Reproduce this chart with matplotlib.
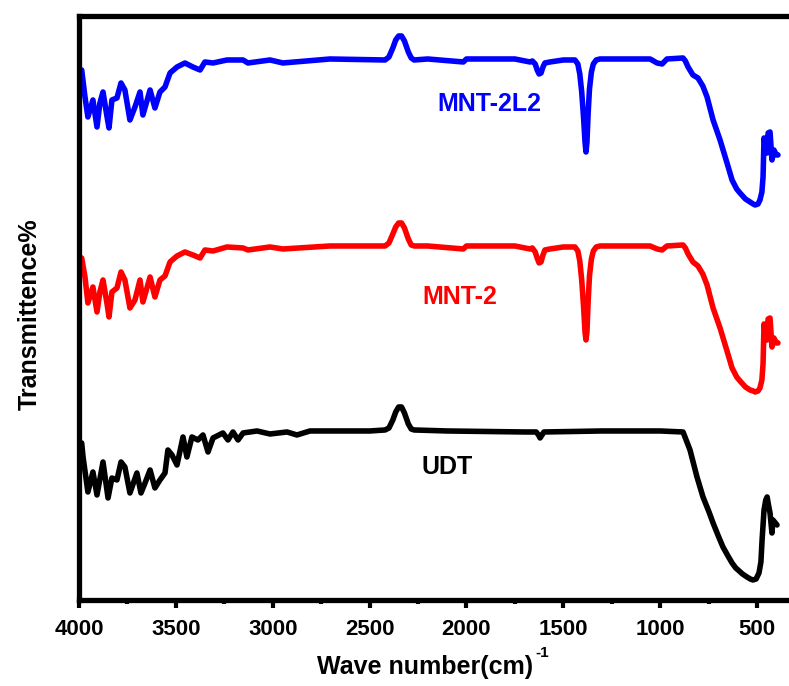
import matplotlib.pyplot as plt
import numpy as np

# FTIR spectra, transmittance in arbitrary (offset) units
wn_blue = [4000, 3986, 3969, 3954, 3928, 3907, 3892, 3876, 3855, 3845, 3830, 3804, 3783, 3763,
           3737, 3711, 3685, 3670, 3633, 3608, 3582, 3556, 3530, 3494, 3453, 3412, 3375, 3350,
           3308, 3236, 3153, 3128, 3014, 2947, 2704, 2420, 2400, 2380, 2365, 2350, 2335, 2320,
           2300, 2285, 2270, 2200, 2016, 2000, 1750, 1672, 1660, 1645, 1635, 1625, 1615, 1605,
           1595, 1569, 1500, 1440, 1425, 1415, 1405, 1395, 1388, 1383, 1378, 1372, 1365, 1355,
           1345, 1330, 1311, 1052, 1016, 990, 965, 882, 870, 856, 831, 805, 780, 758, 727, 691,
           655, 629, 605, 588, 560, 536, 520, 510, 495, 485, 475, 469, 464, 455, 448, 443, 433,
           423, 413, 400, 392]
t_blue = [532, 534, 507, 487, 504, 477, 501, 512, 487, 476, 504, 506, 521, 514,
          484, 497, 512, 489, 514, 496, 512, 517, 531, 537, 541, 537, 534, 542,
          541, 544, 544, 541, 544, 541, 545, 544, 547, 556, 564, 568, 568, 563,
          552, 546, 544, 545, 542, 545, 545, 542, 543, 540, 534, 530, 531, 537,
          541, 542, 544, 544, 540, 530, 512, 485, 462, 452, 462, 490, 515, 532,
          540, 544, 545, 545, 541, 540, 545, 546, 543, 537, 529, 526, 518, 507, 484, 464,
          441, 424, 415, 411, 405, 402, 400, 399, 400, 404, 412, 427, 466, 455, 451, 471, 472,
          444, 454, 449, 449]

wn_red = [4000, 3986, 3969, 3954, 3928, 3907, 3892, 3876, 3855, 3845, 3830, 3804, 3783, 3763,
          3737, 3711, 3685, 3670, 3633, 3608, 3582, 3556, 3530, 3494, 3453, 3412, 3375, 3350,
          3308, 3236, 3153, 3128, 3014, 2947, 2704, 2420, 2400, 2380, 2365, 2350, 2335, 2320,
          2300, 2285, 2270, 2200, 2016, 2000, 1750, 1672, 1660, 1645, 1635, 1625, 1615, 1605,
          1595, 1569, 1500, 1440, 1425, 1415, 1405, 1395, 1388, 1383, 1378, 1372, 1365, 1355,
          1345, 1330, 1311, 1052, 1016, 990, 965, 882, 870, 856, 831, 805, 780, 758, 727, 691,
          655, 629, 605, 588, 560, 536, 520, 510, 495, 485, 475, 469, 464, 455, 448, 443, 433,
          423, 413, 400, 392]
t_red = [344, 346, 327, 301, 317, 292, 312, 324, 300, 287, 312, 316, 332, 324,
         296, 304, 324, 302, 327, 307, 324, 328, 342, 348, 352, 349, 346, 354,
         353, 357, 356, 354, 357, 355, 358, 358, 361, 370, 377, 381, 381, 376,
         365, 359, 358, 358, 355, 358, 358, 355, 356, 352, 346, 341, 342, 349,
         354, 355, 357, 357, 353, 343, 324, 296, 272, 264, 272, 302, 328, 345,
         353, 357, 358, 358, 355, 354, 358, 359, 356, 350, 342, 338, 330, 319, 296, 276,
         253, 236, 227, 223, 217, 214, 213, 212, 213, 216, 224, 240, 280, 268, 264, 285, 286,
         257, 266, 261, 261]

wn_black = [4000, 3986, 3979, 3954, 3928, 3907, 3876, 3850, 3830, 3804, 3783, 3763, 3737, 3701,
            3680, 3659, 3633, 3608, 3582, 3556, 3541, 3520, 3494, 3463, 3443, 3417, 3386, 3360,
            3334, 3308, 3257, 3231, 3205, 3179, 3153, 3081, 3014, 2926, 2875, 2808, 2498, 2420,
            2400, 2380, 2365, 2350, 2335, 2320, 2300, 2285, 2270, 2100, 1700, 1640, 1628, 1620,
            1610, 1600, 1300, 1000, 882, 870, 846, 810, 779, 750, 727, 700, 676, 650, 629, 610,
            598, 575, 552, 535, 521, 505, 490, 480, 474, 464, 455, 448, 440, 433, 423, 418, 397]
t_black = [158, 161, 147, 112, 132, 109, 142, 106, 126, 124, 142, 137, 111, 131,
           111, 121, 134, 116, 124, 131, 154, 149, 139, 167, 147, 167, 164, 169,
           152, 166, 171, 164, 172, 164, 171, 173, 170, 172, 169, 173, 173, 174,
           176, 184, 192, 197, 197, 191, 180, 175, 174, 173, 172, 172, 169, 166,
           169, 172, 173, 173, 172, 166, 154, 127, 107, 93, 81, 68, 57, 48, 41, 36,
           34, 30, 27, 25, 24, 25, 31, 42, 64, 94, 104, 107, 98, 91, 71, 84, 79]

labels = ["MNT-2L2", "MNT-2", "UDT"]
label_pos = [(1884, 500), (2033, 307), (2100, 137)]
colors = ["#0000ff", "#ff0000", "#000000"]

xticks = [4000, 3500, 3000, 2500, 2000, 1500, 1000, 500]

fonts = ["Liberation Sans", "DejaVu Sans"]

fig = plt.figure(figsize=(7.89, 6.86), dpi=100)
ax = fig.add_axes([0.1001, 0.1254, 0.9036, 0.8513])

series = [(wn_blue, t_blue), (wn_red, t_red), (wn_black, t_black)]
for (wn, t), c in zip(series, colors):
    ax.plot(wn, t, color=c, lw=4, solid_joinstyle="round", solid_capstyle="round")

for lab, (x, y), c in zip(labels, label_pos, colors):
    ax.text(x, y, lab, color=c, fontsize=18, fontweight="bold", family=fonts,
            ha="center", va="center")

ax.set_xlim(4000, 320)
ax.set_ylim(4, 588)
ax.set_xticks(xticks)
ax.set_xticks(np.arange(3750, 300, -500), minor=True)
ax.set_yticks([])
for sp in ax.spines.values():
    sp.set_linewidth(3.8)
ax.tick_params(axis="x", which="major", length=6, width=3, direction="out", pad=8)
ax.tick_params(axis="x", which="minor", length=3, width=3, direction="out")
for lbl in ax.get_xticklabels():
    lbl.set_fontsize(16)
    lbl.set_fontweight("bold")
    lbl.set_family(fonts)

ax.set_xlabel("Wave number(cm)", fontsize=18, fontweight="bold", family=fonts)
ax.xaxis.set_label_coords(0.485, -0.094)
fig.text(535 / 789, 1 - 653 / 686, "-1", fontsize=11, fontweight="bold", family=fonts,
         ha="left", va="center")
ax.set_ylabel("Transmittence%", fontsize=18, fontweight="bold", family=fonts)
ax.yaxis.set_label_coords(-0.052, 0.49)

plt.savefig("out.png", dpi=100)
